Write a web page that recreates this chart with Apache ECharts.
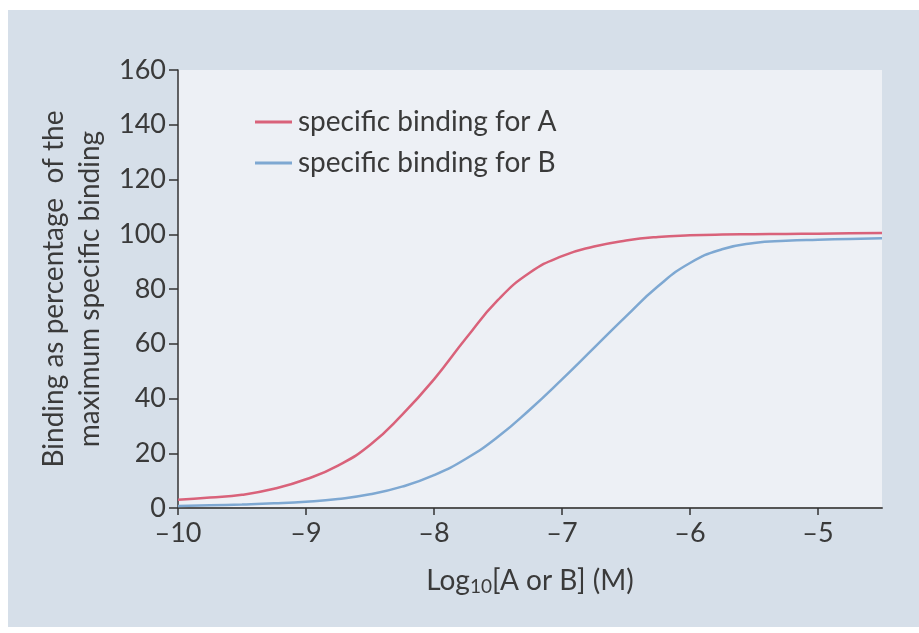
<!DOCTYPE html>
<html>
<head>
<meta charset="utf-8">
<script src="https://cdn.jsdelivr.net/npm/echarts@6/dist/echarts.min.js"></script>
<style>
  html, body { margin: 0; padding: 0; background: #fff; }
  #panel {
    position: absolute; left: 8px; top: 10px; width: 911px; height: 617px;
    background: #d6dfe9;
  }
  #chart { position: absolute; left: 0; top: 0; width: 919px; height: 633px; }
</style>
</head>
<body>
<div id="panel"></div>
<div id="chart"></div>
<script>
// log10 concentration (M)
const logConc = [-10, -9.75, -9.5, -9.25, -9, -8.75, -8.5, -8.25, -8, -7.75, -7.5, -7.25,
  -7, -6.75, -6.5, -6.25, -6, -5.75, -5.5, -5.25, -5, -4.75, -4.5];
// specific binding, % of max
const bindingA = [3, 3.8, 4.8, 7, 10.5, 15.5, 23, 34, 47, 62, 76, 86,
  92, 95.5, 97.7, 99, 99.6, 99.9, 100, 100.1, 100.2, 100.4, 100.5];
const bindingB = [0.7, 1, 1.3, 1.7, 2.3, 3.3, 5, 7.8, 12, 18, 26, 36,
  47, 58.5, 70, 81, 89.5, 94.5, 96.8, 97.6, 98, 98.3, 98.5];
const seriesNames = ["specific binding for A", "specific binding for B"];
const xTicks = [-10, -9, -8, -7, -6, -5];

const font = "Lato, 'Open Sans', sans-serif";
const chart = echarts.init(document.getElementById("chart"));

const toPairs = (ys) => logConc.map((x, i) => [x, ys[i]]);

const option = {
  animation: false,
  textStyle: { fontFamily: font },
  grid: {
    left: 178, right: 37, top: 70, bottom: 125,
    show: true, backgroundColor: "#edf0f5", borderWidth: 0
  },
  legend: {
    orient: "vertical",
    left: 250, top: 103,
    itemGap: 13,
    itemWidth: 37, itemHeight: 3,
    icon: "rect",
    textStyle: { fontSize: 28, color: "#3a3a3a", fontFamily: font, padding: [0, 0, 0, 1] },
    data: seriesNames
  },
  xAxis: {
    type: "value",
    min: -10, max: -4.5, interval: 1,
    axisLine: { show: true, onZero: false, lineStyle: { color: "#555", width: 2 } },
    axisTick: {
      show: true, length: 7, inside: false,
      customValues: xTicks,
      lineStyle: { color: "#333", width: 1.5 }
    },
    axisLabel: {
      customValues: xTicks,
      margin: 12, fontSize: 27, color: "#3a3a3a",
      formatter: (v) => "\u2013" + Math.abs(v)
    },
    splitLine: { show: false },
    name: "Log{sub|10}[A or B] (M)",
    nameLocation: "middle",
    nameGap: 57,
    nameTextStyle: {
      fontSize: 28, color: "#3a3a3a",
      rich: { sub: { fontSize: 19, color: "#3a3a3a", verticalAlign: "bottom", padding: [12, 0, 0, 0] } }
    }
  },
  yAxis: {
    type: "value",
    min: 0, max: 160, interval: 20,
    axisLine: { show: true, lineStyle: { color: "#333", width: 1.5 } },
    axisTick: { show: true, length: 9, inside: false, lineStyle: { color: "#333", width: 1.5 } },
    axisLabel: { margin: 12, fontSize: 27, color: "#3a3a3a" },
    splitLine: { show: false },
    name: "Binding as percentage  of the\nmaximum specific binding",
    nameLocation: "middle",
    nameRotate: 90,
    nameGap: 67,
    nameTextStyle: { fontSize: 28, color: "#3a3a3a", lineHeight: 36, align: "center" }
  },
  series: [
    {
      name: seriesNames[0],
      type: "line",
      smooth: true,
      showSymbol: false,
      lineStyle: { color: "#d9627a", width: 2.5 },
      itemStyle: { color: "#d9627a" },
      data: toPairs(bindingA)
    },
    {
      name: seriesNames[1],
      type: "line",
      smooth: true,
      showSymbol: false,
      lineStyle: { color: "#7ea8d2", width: 2.5 },
      itemStyle: { color: "#7ea8d2" },
      data: toPairs(bindingB)
    }
  ]
};

chart.setOption(option);
</script>
</body>
</html>
